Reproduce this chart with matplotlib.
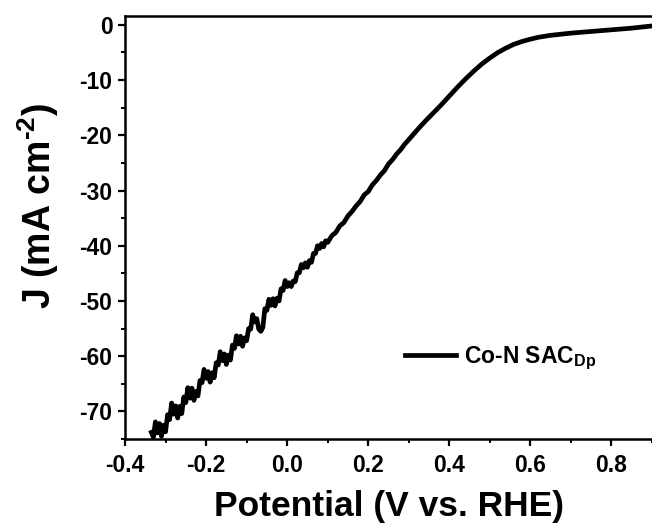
import matplotlib
matplotlib.use("Agg")
import matplotlib.pyplot as plt
from matplotlib.ticker import MultipleLocator

plt.rcParams['font.family'] = ['Liberation Sans', 'DejaVu Sans']
plt.rcParams['font.weight'] = 'bold'
plt.rcParams['axes.unicode_minus'] = False
plt.rcParams['mathtext.fontset'] = 'custom'
plt.rcParams['mathtext.rm'] = 'Liberation Sans:bold'
plt.rcParams['mathtext.it'] = 'Liberation Sans:bold'
plt.rcParams['mathtext.bf'] = 'Liberation Sans:bold'
plt.rcParams['mathtext.default'] = 'rm'

# LSV polarization curve: potential (V vs. RHE) and current density (mA cm^-2)
# noisy high-current region, sampled every 5 mV
potential_low = [
    -0.335, -0.330, -0.325, -0.320, -0.315, -0.310, -0.305, -0.300, -0.295, -0.290,
    -0.285, -0.280, -0.275, -0.270, -0.265, -0.260, -0.255, -0.250, -0.245, -0.240,
    -0.235, -0.230, -0.225, -0.220, -0.215, -0.210, -0.205, -0.200, -0.195, -0.190,
    -0.185, -0.180, -0.175, -0.170, -0.165, -0.160, -0.155, -0.150, -0.145, -0.140,
    -0.135, -0.130, -0.125, -0.120, -0.115, -0.110, -0.105, -0.100, -0.095, -0.090,
    -0.085, -0.080, -0.075, -0.070, -0.065, -0.060, -0.055, -0.050, -0.045, -0.040,
    -0.035, -0.030, -0.025, -0.020, -0.015, -0.010, -0.005, 0.000, 0.005, 0.010,
    0.015, 0.020, 0.025, 0.030, 0.035, 0.040, 0.045, 0.050, 0.055, 0.060,
    0.065, 0.070, 0.075, 0.080, 0.085, 0.090, 0.095, 0.100,
]
current_low = [
    -73.8, -74.7, -71.9, -73.9, -72.2, -74.5, -72.5, -73.7, -70.6, -71.5,
    -68.5, -70.5, -69.0, -71.2, -69.1, -70.4, -67.4, -68.4, -65.7, -67.6,
    -65.8, -68.0, -66.4, -67.2, -64.4, -64.8, -62.4, -64.0, -62.8, -64.7,
    -63.0, -63.9, -61.2, -61.6, -59.2, -60.8, -59.6, -61.5, -59.8, -60.7,
    -58.0, -58.6, -56.3, -57.8, -56.4, -58.2, -56.7, -57.2, -55.0, -55.1,
    -52.5, -53.8, -53.2, -55.1, -55.5, -54.8, -51.4, -51.7, -49.7, -50.8,
    -49.6, -50.9, -49.5, -50.0, -47.8, -48.1, -46.3, -47.4, -46.7, -47.4,
    -46.4, -46.5, -44.9, -44.9, -43.4, -44.0, -43.1, -43.9, -42.7, -43.0,
    -41.4, -41.4, -40.0, -40.5, -39.6, -40.2, -39.1, -39.4,
]
# kinetic / diffusion region and onset
potential_high = [
    0.11, 0.12, 0.13, 0.14, 0.15, 0.16, 0.17, 0.18, 0.19, 0.20,
    0.21, 0.22, 0.23, 0.24, 0.25, 0.26, 0.27, 0.28, 0.29, 0.30,
    0.32, 0.34, 0.36, 0.38, 0.40, 0.42, 0.44, 0.46, 0.48, 0.50,
    0.52, 0.54, 0.56, 0.58, 0.60, 0.62, 0.65, 0.70, 0.75, 0.80,
    0.85, 0.90,
]
current_high = [
    -38.2, -37.6, -36.4, -35.8, -34.6, -33.8, -32.8, -32.0, -30.8, -30.2,
    -29.0, -28.2, -27.2, -26.4, -25.2, -24.4, -23.4, -22.6, -21.6, -20.8,
    -19.1, -17.5, -16.0, -14.5, -12.9, -11.3, -9.8, -8.4, -7.1, -6.0,
    -5.0, -4.2, -3.5, -3.0, -2.6, -2.25, -1.9, -1.5, -1.2, -0.9,
    -0.6, -0.2,
]

x_ticks = [-0.4, -0.2, 0.0, 0.2, 0.4, 0.6, 0.8]
y_ticks = [0, -10, -20, -30, -40, -50, -60, -70]
series_label = r'Co-N SAC$_{Dp}$'

potential = potential_low + potential_high
current = current_low + current_high

fig = plt.figure(figsize=(6.52, 5.32), dpi=100)
ax = fig.add_axes([125 / 652, 1 - 439 / 532, 527 / 652, (439 - 16) / 532])

ax.plot(potential, current, color='black', lw=3.4, solid_joinstyle='round',
        label=series_label)

ax.set_xlim(-0.4, 0.9)
ax.set_ylim(-75, 1.6)
ax.set_xticks(x_ticks)
ax.set_yticks(y_ticks)
ax.set_xticklabels([f'{v:.1f}' for v in x_ticks])
ax.xaxis.set_minor_locator(MultipleLocator(0.1))
ax.yaxis.set_minor_locator(MultipleLocator(5))

ax.tick_params(axis='both', which='major', direction='out', length=5,
               width=1.6, labelsize=16.5)
ax.tick_params(axis='x', which='major', pad=6)
ax.tick_params(axis='y', which='major', pad=4)
ax.tick_params(axis='both', which='minor', direction='out', length=3,
               width=1.4)
ax.tick_params(top=False, right=False, which='both')
for side in ('left', 'bottom', 'top'):
    ax.spines[side].set_linewidth(1.8)
ax.spines['right'].set_linewidth(0.6)
ax.spines['right'].set_color('#999999')

ax.set_xlabel('Potential (V vs. RHE)', fontsize=25.5, fontweight='bold',
              labelpad=9)
ax.set_ylabel(r'J (mA cm$^{\text{-}2}$)', fontsize=27, fontweight='bold')
ax.yaxis.set_label_coords(-0.122, 0.55)

leg = ax.legend(loc='center left', bbox_to_anchor=(0.51, 0.19), frameon=False,
                fontsize=16.5, handlelength=2.2, handletextpad=0.35,
                borderpad=0)

fig.savefig('out.png', dpi=100)
